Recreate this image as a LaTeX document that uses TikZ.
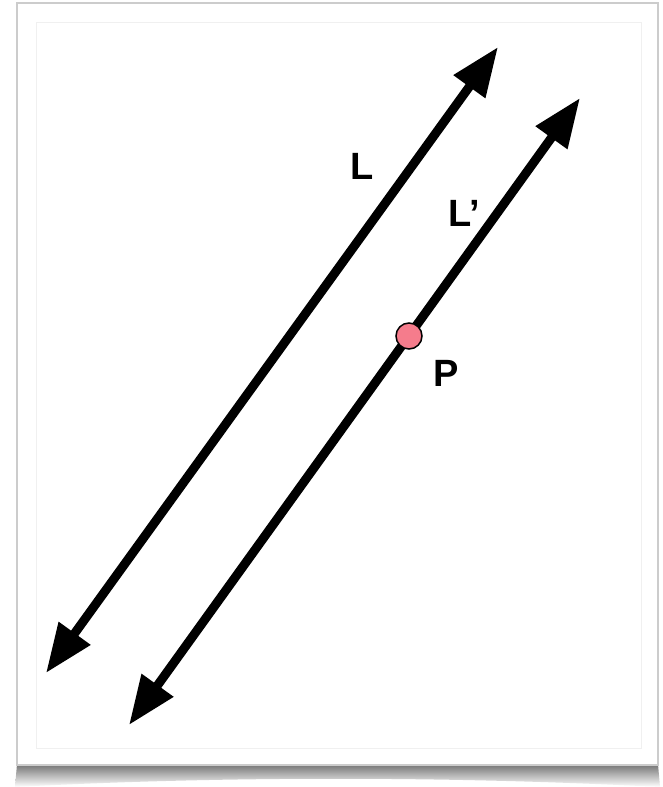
\documentclass[tikz,border=0pt]{standalone}
\usepackage{fontspec}
\setmainfont{Liberation Sans}
\usetikzlibrary{arrows.meta,positioning,calc}
\definecolor{dotpink}{HTML}{F57C8C}
\tikzset{
  ray/.style   = {{Triangle[length=49pt,width=37pt]}-{Triangle[length=49pt,width=37pt]},
                  draw=black, line width=9pt},
  lab/.style   = {font=\fontsize{38}{40}\selectfont\bfseries, inner sep=0pt},
  dot/.style   = {circle, draw=black, line width=1.5pt, fill=dotpink,
                  minimum size=26pt, inner sep=0pt},
}

\begin{document}
\begin{tikzpicture}[x=1pt,y=-1pt]
  \useasboundingbox (0,0) rectangle (662,787);
  % card and shadow
  \fill[white] (0,0) rectangle (662,787);
  \shade[top color=black!55, bottom color=white]
    (17,764) -- (658,764) -- (660,787) .. controls (450,776) and (220,776) .. (15,787) -- cycle;
  \draw[black!20, line width=2pt, fill=white] (17,3) rectangle (658,765);
  \draw[black!6, line width=1pt] (36,22) rectangle (641,748);
  % end points
  \coordinate (Lbot) at (46,673);
  \coordinate (Ltop) at (498,47);
  \coordinate (Mbot) at (129,725);
  \coordinate (Mtop) at (580,98);
  % the two lines
  \draw[ray] (Lbot) -- (Ltop);
  \draw[ray] (Mbot) -- (Mtop);
  % point and labels
  \node[dot] (p) at (409,336) {};
  \node[lab] (l)  at (362,166) {L};
  \node[lab] (lp) at (464,213) {L’};
  \node[lab] (pl) at (446,373) {P};
\end{tikzpicture}
\end{document}
